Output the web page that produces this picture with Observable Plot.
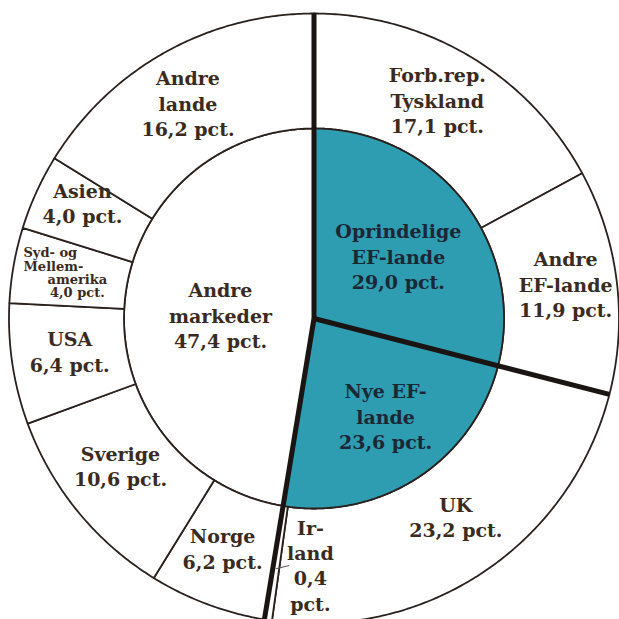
<!DOCTYPE html>
<html>
<head>
<meta charset="utf-8">
<script src="https://cdn.jsdelivr.net/npm/d3@7"></script>
<script src="https://cdn.jsdelivr.net/npm/@observablehq/plot@0.6"></script>
<style>
  html, body { margin: 0; padding: 0; background: #ffffff; overflow: hidden; }
  #chart { width: 619px; height: 619px; }
</style>
</head>
<body>
<div id="chart"></div>
<script>
// ---- data ----
const innerNames  = ["Oprindelige EF-lande", "Nye EF-lande", "Andre markeder"];
const innerValues = [29.0, 23.6, 47.4];
const innerLabels = ["Oprindelige\nEF-lande\n29,0 pct.", "Nye EF-\nlande\n23,6 pct.", "Andre\nmarkeder\n47,4 pct."];

const outerNames  = ["Forb.rep. Tyskland", "Andre EF-lande", "UK", "Irland", "Norge", "Sverige", "USA", "Syd- og Mellemamerika", "Asien", "Andre lande"];
const outerValues = [17.1, 11.9, 23.2, 0.4, 6.2, 10.6, 6.4, 4.0, 4.0, 16.2];
const outerGroup  = [0, 0, 1, 1, 2, 2, 2, 2, 2, 2];
const outerLabels = ["Forb.rep.\nTyskland\n17,1 pct.", "Andre\nEF-lande\n11,9 pct.", "UK\n23,2 pct.", "Ir-\nland\n0,4\npct.", "Norge\n6,2 pct.", "Sverige\n10,6 pct.", "USA\n6,4 pct.", "Syd- og\nMellem-|amerika\n4,0 pct.", "Asien\n4,0 pct.", "Andre\nlande\n16,2 pct."];

// ---- layout (not data) ----
const W = 619, H = 619, CX = 313.5, CY = 318, R = 305;
const innerR = 190 / R;
const teal = "#2e9cb1";
const ink = "#2a211c";
// label placement: [radius fraction, angle offset from slice middle in degrees]
const innerLabelPos = [[0.345, 1.1], [0.395, -3.3], [0.307, -2.3]];
const outerLabelPos = [[0.824, -1.4], [0.833, -0.9], [0.798, -1.8], [0.807, -7.8], [0.81, 1.2], [0.797, 2.0], [0.808, 1.1], null, [0.849, 2.1], [0.82, -1.1]];

// ---- geometry helpers ----
const toDeg = p => p / 100 * 360;
const polar = (deg, r) => { const a = deg * Math.PI / 180; return {x: r * Math.sin(a), y: r * Math.cos(a)}; };
function cumul(values) { let s = 0; return values.map(v => { const a0 = s; s += v; return [a0, s]; }); }
function arc(d0, d1, r) {
  const n = Math.max(2, Math.ceil(Math.abs(d1 - d0) / 0.5) + 1);
  return d3.range(n).map(i => polar(d0 + (d1 - d0) * i / (n - 1), r));
}

const innerSpans = cumul(innerValues);
const outerSpans = cumul(outerValues);

const polys = [];
innerNames.forEach((name, i) => {
  const [p0, p1] = innerSpans[i];
  const pts = [{x: 0, y: 0}, ...arc(toDeg(p0), toDeg(p1), innerR)];
  pts.forEach(p => polys.push({id: "i" + i, teal: i < 2, ...p}));
});
outerNames.forEach((name, i) => {
  const [p0, p1] = outerSpans[i];
  const pts = [...arc(toDeg(p0), toDeg(p1), 1), ...arc(toDeg(p1), toDeg(p0), innerR)];
  pts.forEach(p => polys.push({id: "o" + i, teal: false, ...p}));
});

// thick lines at the group boundaries
const thick = innerSpans.map(([p0]) => {
  const e = polar(toDeg(p0), 1);
  return {x1: 0, y1: 0, x2: e.x, y2: e.y};
});

// labels
const labels = [];
innerNames.forEach((name, i) => {
  const [p0, p1] = innerSpans[i];
  const [rf, off] = innerLabelPos[i];
  const p = polar(toDeg((p0 + p1) / 2) + off, rf);
  labels.push({...p, text: innerLabels[i], teal: i < 2, size: 19, anchor: "middle"});
});
outerNames.forEach((name, i) => {
  const [p0, p1] = outerSpans[i];
  const mid = toDeg((p0 + p1) / 2);
  if (outerLabelPos[i]) {
    const [rf, off] = outerLabelPos[i];
    const p = polar(mid + off, rf);
    labels.push({...p, text: outerLabels[i], teal: false, size: 19, anchor: "middle"});
  } else {
    const [a, b] = outerLabels[i].split("|");
    labels.push({...polar(mid + 1.4, 0.972), text: a, teal: false, size: 13, anchor: "start"});
    labels.push({...polar(mid - 2.3, 0.783), text: b, teal: false, size: 13, anchor: "middle"});
  }
});

// Irland leader line
const irMid = toDeg((outerSpans[3][0] + outerSpans[3][1]) / 2);
const la = polar(irMid, 0.83), lb = polar(irMid - 2.9, 0.814);
const leader = [{x1: la.x, y1: la.y, x2: lb.x, y2: lb.y}];

const big = labels.filter(d => d.size === 19);
const small = labels.filter(d => d.size !== 19);
const textOpts = {x: "x", y: "y", text: "text", fontWeight: "bold", fontFamily: "DejaVu Serif"};

const chart = Plot.plot({
  width: W, height: H, margin: 0,
  x: {domain: [-1, 1], range: [CX - R, CX + R], axis: null},
  y: {domain: [-1, 1], range: [CY + R, CY - R], axis: null},
  style: {background: "#ffffff", fontFamily: "DejaVu Serif", overflow: "hidden"},
  marks: [
    Plot.line(polys.filter(d => !d.teal), {x: "x", y: "y", z: "id", fill: "#ffffff", stroke: ink, strokeWidth: 1.8, curve: "linear-closed"}),
    Plot.line(polys.filter(d => d.teal), {x: "x", y: "y", z: "id", fill: teal, stroke: ink, strokeWidth: 1.8, curve: "linear-closed"}),
    Plot.link(thick, {x1: "x1", y1: "y1", x2: "x2", y2: "y2", stroke: "#1a1412", strokeWidth: 5}),
    Plot.link(leader, {x1: "x1", y1: "y1", x2: "x2", y2: "y2", stroke: "#555", strokeWidth: 1}),
    Plot.text(big.filter(d => !d.teal), {...textOpts, fill: "#3a2a20", fontSize: 19, lineHeight: 1.33, textAnchor: "middle"}),
    Plot.text(big.filter(d => d.teal), {...textOpts, fill: "#1b2735", fontSize: 19, lineHeight: 1.33, textAnchor: "middle"}),
    Plot.text(small.filter(d => d.anchor === "start"), {...textOpts, fill: "#3a2a20", fontSize: 13, lineHeight: 1.04, textAnchor: "start"}),
    Plot.text(small.filter(d => d.anchor !== "start"), {...textOpts, fill: "#3a2a20", fontSize: 13, lineHeight: 1.04, textAnchor: "middle"})
  ]
});
document.getElementById("chart").appendChild(chart);
</script>
</body>
</html>
